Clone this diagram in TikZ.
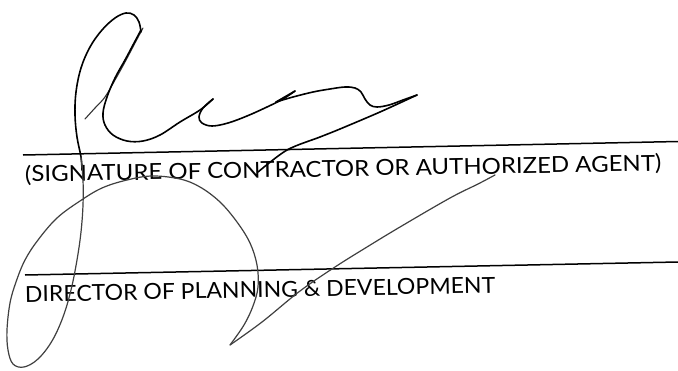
\documentclass[tikz,border=0pt]{standalone}
\usepackage{fontspec}
\setmainfont{Lato}
\begin{document}
\begin{tikzpicture}[x=1pt,y=-1pt,
  rule/.style={line width=1.5pt, black},
  sig/.style={line width=1.6pt, black, line cap=round, line join=round},
  sigthin/.style={line width=1.1pt, black!80, line cap=round, line join=round},
  siggray/.style={line width=1.2pt, black!75, line cap=round, line join=round},
  label/.style={inner sep=0pt, anchor=base west, text=black}]
\useasboundingbox (0,0) rectangle (678,370);
\fill[white] (0,0) rectangle (678,370);
% signature lines
\coordinate (l1a) at (23,155);
\coordinate (l1b) at (678,141.5);
\coordinate (l2a) at (25,275);
\coordinate (l2b) at (678,262);
\draw[rule] (l1a) -- (l1b);
\draw[rule] (l2a) -- (l2b);
% labels
\node[label, rotate=1.0] (t1) at (25,182)
  {\resizebox{636pt}{16pt}{\smash{(}SIGNATURE OF CONTRACTOR OR AUTHORIZED AGENT\smash{)}}};
\node[label, rotate=1.1] (t2) at (25,302)
  {\resizebox{470pt}{16pt}{DIRECTOR OF PLANNING \& DEVELOPMENT}};
% upper signature
\draw[sigthin] plot[smooth, tension=0.6] coordinates
  {(85,119) (95,108) (105,97) (115,80) (125,62) (135,43) (143,28)};
\draw[sig] plot[smooth, tension=0.6] coordinates
  {(141,32) (139,22) (134,15) (126,13) (115,18) (102,30) (90,47) (81,68) (76,92) (75,115) (77,137) (81,157) (82,170)};
\draw[siggray] plot[smooth, tension=0.6] coordinates
  {(81,157) (83,180) (83,205) (81,232) (77,260) (71,290) (63,317) (52,341) (38,359) (24,367) (13,364) (8,350) (7,330) (10,303) (16,282) (25,260) (38,240) (57,218) (80,201) (102,188) (127,180) (152,176) (180,179) (200,187) (220,202) (237,222) (250,243) (257,265) (258,287) (253,306) (244,325) (230,345)};
\draw[siggray] plot[smooth, tension=0.6] coordinates
  {(230,345) (262,322) (300,291) (335,267) (367,247) (400,227) (450,198) (478,184) (495,175)};
\draw[sig] plot[smooth, tension=0.6] coordinates
  {(141,30) (133,45) (125,60) (115,78) (107,97) (103,113) (105,125) (113,135) (127,141) (143,141) (160,135) (180,122) (200,110) (213,99)};
\draw[sig] plot[smooth, tension=0.6] coordinates
  {(213,99) (203,108) (199,117) (202,123) (212,126) (228,123) (247,116) (267,107) (283,99) (295,91)};
\draw[sig] (295,91) -- (276,102);
\draw[sig] plot[smooth, tension=0.6] coordinates
  {(276,102) (293,97) (313,92) (330,89) (345,87) (355,88) (361,92) (365,99) (370,105) (377,107) (389,105) (403,100) (417,95)};
\draw[sig] plot[smooth, tension=0.5] coordinates
  {(417,95) (380,112) (340,129) (320,137) (287,150) (258,172)};
\end{tikzpicture}
\end{document}
